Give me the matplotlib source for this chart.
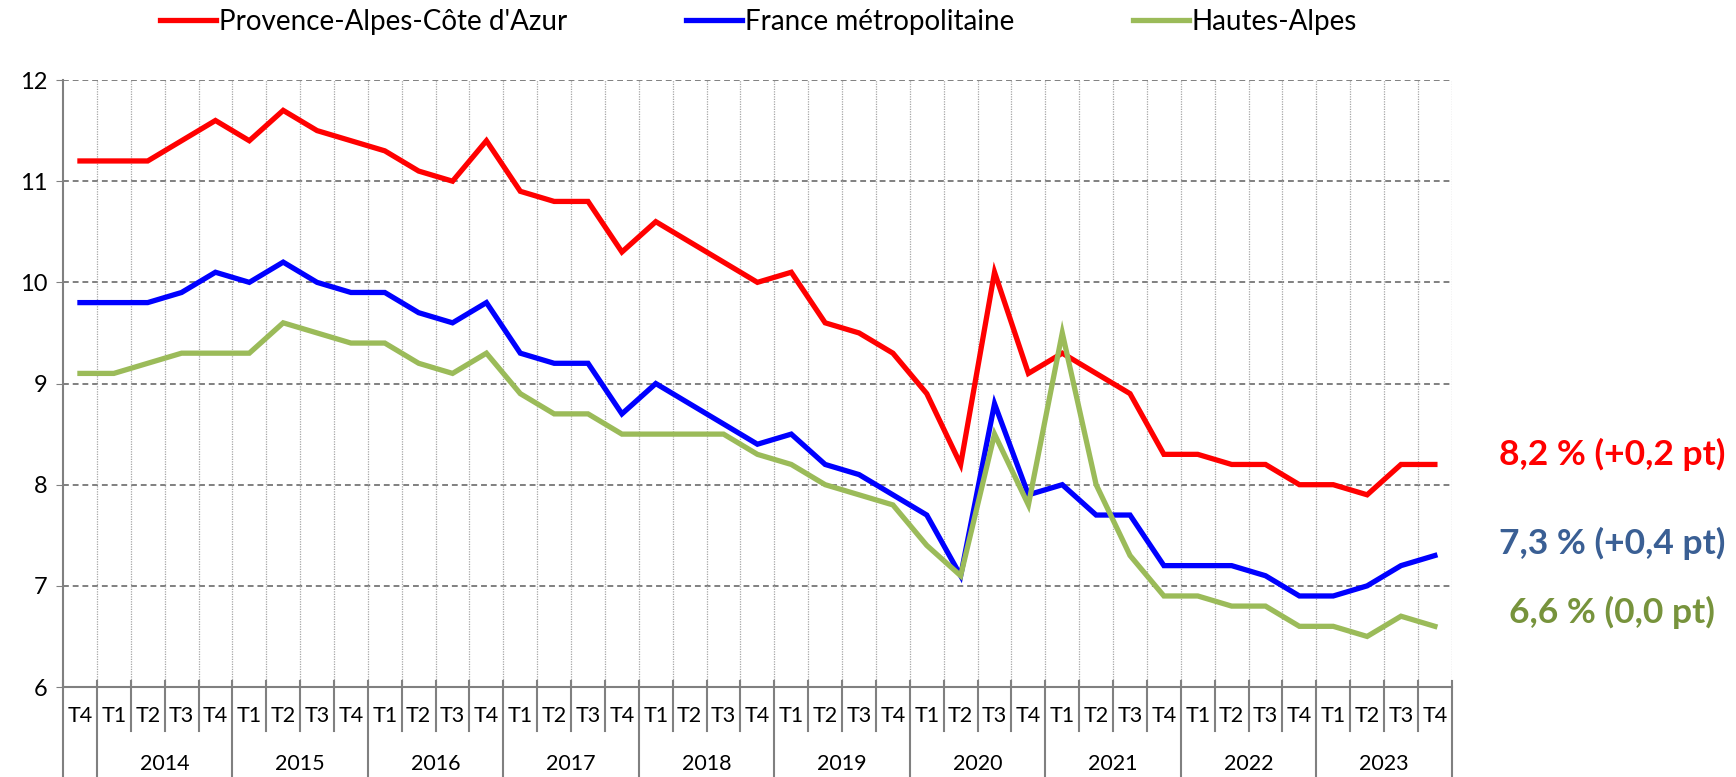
import matplotlib
matplotlib.use("Agg")
import matplotlib.pyplot as plt
import matplotlib.transforms as mtransforms
import numpy as np

plt.rcParams['font.family'] = ['Lato', 'DejaVu Sans']

# quarters: 2013 T4, then 2014 T1 ... 2023 T4
quarters = ["T4"] + ["T1", "T2", "T3", "T4"] * 10
years = ["2014", "2015", "2016", "2017", "2018", "2019", "2020", "2021", "2022", "2023"]

paca = [11.2, 11.2, 11.2, 11.4, 11.6, 11.4, 11.7, 11.5, 11.4, 11.3, 11.1, 11.0, 11.4,
        10.9, 10.8, 10.8, 10.3, 10.6, 10.4, 10.2, 10.0, 10.1, 9.6, 9.5, 9.3,
        8.9, 8.2, 10.1, 9.1, 9.3, 9.1, 8.9, 8.3, 8.3, 8.2, 8.2, 8.0, 8.0, 7.9, 8.2, 8.2]
france = [9.8, 9.8, 9.8, 9.9, 10.1, 10.0, 10.2, 10.0, 9.9, 9.9, 9.7, 9.6, 9.8,
          9.3, 9.2, 9.2, 8.7, 9.0, 8.8, 8.6, 8.4, 8.5, 8.2, 8.1, 7.9,
          7.7, 7.1, 8.8, 7.9, 8.0, 7.7, 7.7, 7.2, 7.2, 7.2, 7.1, 6.9, 6.9, 7.0, 7.2, 7.3]
hautes_alpes = [9.1, 9.1, 9.2, 9.3, 9.3, 9.3, 9.6, 9.5, 9.4, 9.4, 9.2, 9.1, 9.3,
                8.9, 8.7, 8.7, 8.5, 8.5, 8.5, 8.5, 8.3, 8.2, 8.0, 7.9, 7.8,
                7.4, 7.1, 8.5, 7.8, 9.5, 8.0, 7.3, 6.9, 6.9, 6.8, 6.8, 6.6, 6.6, 6.5, 6.7, 6.6]

labels = ["Provence-Alpes-Côte d'Azur", "France métropolitaine", "Hautes-Alpes"]
colors = ["#FF0000", "#0000FF", "#9BBB59"]
end_texts = ["8,2 % (+0,2 pt)", "7,3 % (+0,4 pt)", "6,6 % (0,0 pt)"]
end_colors = ["#FF0000", "#3A5F94", "#77933C"]

fig = plt.figure(figsize=(17.36, 7.77), dpi=100)
ax = fig.add_axes([0.0363, 0.1158, 0.80, 0.7812])

x = np.arange(len(quarters))
for vals, lab, col in zip([paca, france, hautes_alpes], labels, colors):
    ax.plot(x, vals, color=col, lw=3.8, label=lab, solid_joinstyle='miter', zorder=3)

ax.set_xlim(-0.5, len(quarters) - 0.5)
ax.set_ylim(6, 12)
ax.set_yticks(range(6, 13))
ax.tick_params(axis='y', labelsize=17, length=5, color='#808080', pad=6)
ax.set_xticks([])

for s in ['top', 'right']:
    ax.spines[s].set_visible(False)
for s in ['left', 'bottom']:
    ax.spines[s].set_color('#808080')
    ax.spines[s].set_linewidth(1.5)

# horizontal dashed grid
for yv in range(7, 13):
    ax.axhline(yv, color='#808080', ls=(0, (3, 2)), lw=1.4, zorder=1)
# vertical dotted grid at category boundaries
for b in np.arange(0.5, len(quarters) - 0.4, 1):
    ax.axvline(b, color='#A6A6A6', ls=(0, (1, 1)), lw=0.9, zorder=1)

# category axis: quarter labels, separators, years
trans = mtransforms.blended_transform_factory(ax.transData, ax.transAxes)
for i, q in enumerate(quarters):
    ax.text(i, -0.048, q, transform=trans, ha='center', va='center', fontsize=15.5)
for b in np.arange(-0.5, len(quarters), 1):
    year_edge = (b + 0.5) % 4 == 1 or b == -0.5 or b == len(quarters) - 0.5
    y_end = -0.148 if year_edge else -0.073
    ax.plot([b, b], [0.01, y_end], transform=trans, color='#808080', lw=1.5, clip_on=False)
for k, yr in enumerate(years):
    ax.text(1 + 4 * k + 1.5, -0.127, yr, transform=trans, ha='center', va='center', fontsize=15.5)

# end labels
for txt, col, yy in zip(end_texts, end_colors, [454, 543, 612]):
    fig.text(1612 / 1736, 1 - yy / 777, txt, color=col, fontsize=25.5, fontweight='bold',
             ha='center', va='center')

fig.legend(loc='center', bbox_to_anchor=(0.437, 0.972), ncol=3, frameon=False,
           fontsize=20, handlelength=2.0, handletextpad=0.1, columnspacing=4.3)

fig.savefig("out.png", dpi=100)
